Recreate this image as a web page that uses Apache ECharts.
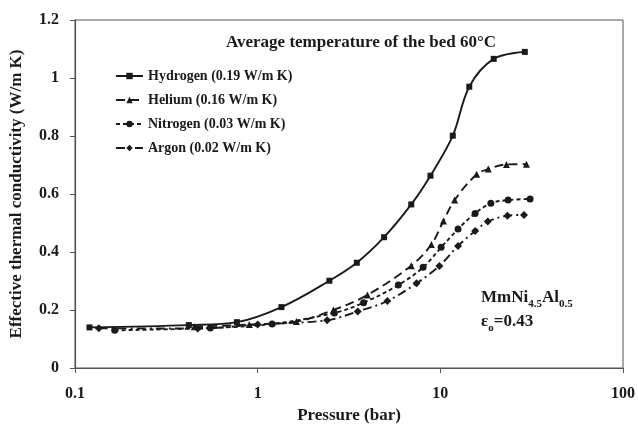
<!DOCTYPE html>
<html>
<head>
<meta charset="utf-8">
<script src="https://cdn.jsdelivr.net/npm/echarts@6/dist/echarts.min.js"></script>
<style>html,body{margin:0;padding:0;background:#fff;}#c{width:638px;height:430px;}</style>
</head>
<body>
<div id="c"></div>
<script>
const seriesNames = ['Hydrogen (0.19 W/m K)', 'Helium (0.16 W/m K)', 'Nitrogen (0.03 W/m K)', 'Argon (0.02 W/m K)'];
const hydrogen = [[0.12,0.14],[0.42,0.148],[0.77,0.158],[1.35,0.21],[2.47,0.301],[3.49,0.363],[4.92,0.451],[6.93,0.564],[8.83,0.663],[11.7,0.801],[14.4,0.97],[19.6,1.066],[29,1.09]];
const helium = [[0.45,0.142],[0.9,0.15],[1.63,0.16],[2.6,0.2],[3.99,0.252],[6.93,0.353],[8.93,0.426],[10.4,0.507],[11.97,0.579],[15.8,0.668],[18.3,0.686],[23,0.702],[29.6,0.703]];
const nitrogen = [[0.165,0.13],[0.55,0.138],[1.2,0.152],[2.63,0.19],[3.8,0.225],[5.89,0.286],[8.05,0.347],[10.1,0.416],[12.5,0.479],[15.5,0.533],[18.9,0.568],[23.5,0.579],[31,0.583]];
const argon = [[0.135,0.137],[0.47,0.136],[1.0,0.15],[2.4,0.165],[3.53,0.195],[5.13,0.231],[7.41,0.292],[9.88,0.352],[12.5,0.421],[15.5,0.472],[18.2,0.505],[23.3,0.525],[28.7,0.528]];
const xTicks = [0.1, 1, 10, 100];
const yTicks = [0, 0.2, 0.4, 0.6, 0.8, 1, 1.2];

const FONT = '"Liberation Serif", "DejaVu Serif", serif';
const INK = '#1a1a1a';
const chart = echarts.init(document.getElementById('c'), null, {renderer: 'canvas'});

function mk(name, data, symbol, size, type) {
  return {
    name: name, type: 'line', data: data, smooth: 0.35,
    symbol: symbol, symbolSize: size,
    itemStyle: {color: INK},
    lineStyle: {color: INK, width: 1.9, type: type},
    z: 3
  };
}

chart.setOption({
  animation: false,
  backgroundColor: '#fff',
  textStyle: {fontFamily: FONT},
  grid: {left: 72, right: 14, top: 20, bottom: 62, show: true, borderColor: '#555', borderWidth: 1},
  title: {
    text: 'Average temperature of the bed 60°C',
    left: 221, top: 29,
    textStyle: {fontFamily: FONT, fontWeight: 'bold', fontSize: 17, color: INK}
  },
  legend: {
    orient: 'vertical', left: 110, top: 64, itemGap: 10,
    itemWidth: 27, itemHeight: 8,
    textStyle: {fontFamily: FONT, fontWeight: 'bold', fontSize: 14, color: INK},
    data: seriesNames
  },
  xAxis: {
    type: 'log', logBase: 10, min: 0.1, max: 100,
    name: 'Pressure (bar)', nameLocation: 'middle', nameGap: 36,
    nameTextStyle: {fontFamily: FONT, fontWeight: 'bold', fontSize: 17, color: INK},
    axisLine: {lineStyle: {color: '#555', width: 1.2}},
    axisTick: {show: true, inside: false, length: 5, lineStyle: {color: '#555'}},
    minorTick: {show: false},
    splitLine: {show: false},
    axisLabel: {
      margin: 18, fontFamily: FONT, fontWeight: 'bold', fontSize: 16, color: INK,
      formatter: function (v) { const t = xTicks.find(k => Math.abs(k - v) / k < 1e-6); return t === undefined ? '' : String(t); }
    }
  },
  yAxis: {
    type: 'value', min: 0, max: 1.2, interval: 0.2,
    name: 'Effective thermal conductivity (W/m K)', nameLocation: 'middle', nameGap: 50,
    nameTextStyle: {fontFamily: FONT, fontWeight: 'bold', fontSize: 17, color: INK},
    axisLine: {show: true, lineStyle: {color: '#555', width: 1.2}},
    axisTick: {show: true, inside: false, length: 5, lineStyle: {color: '#555'}},
    splitLine: {show: false},
    axisLabel: {
      margin: 16, fontFamily: FONT, fontWeight: 'bold', fontSize: 16, color: INK,
      formatter: function (v) { const t = yTicks.find(k => Math.abs(k - v) < 1e-6); return t === undefined ? '' : String(t); }
    }
  },
  series: [
    mk(seriesNames[0], hydrogen, 'rect', 6, 'solid'),
    mk(seriesNames[1], helium, 'triangle', 7, [9, 5]),
    mk(seriesNames[2], nitrogen, 'circle', 7, [4, 3]),
    mk(seriesNames[3], argon, 'diamond', 8, [9, 4, 2, 4])
  ],
  graphic: [
    {
      type: 'text', left: 481, top: 289, z: 10,
      style: {
        text: '{b|MmNi}{s|4.5}{b|Al}{s|0.5}',
        rich: {
          b: {fontFamily: FONT, fontWeight: 'bold', fontSize: 17, fill: INK, verticalAlign: 'bottom'},
          s: {fontFamily: FONT, fontWeight: 'bold', fontSize: 11, fill: INK, verticalAlign: 'bottom', padding: [0, 0, -4, 0]}
        }
      }
    },
    {
      type: 'text', left: 481, top: 313, z: 10,
      style: {
        text: '{b|ε}{s|o}{b|=0.43}',
        rich: {
          b: {fontFamily: FONT, fontWeight: 'bold', fontSize: 17, fill: INK, verticalAlign: 'bottom'},
          s: {fontFamily: FONT, fontWeight: 'bold', fontSize: 11, fill: INK, verticalAlign: 'bottom', padding: [0, 0, -4, 0]}
        }
      }
    }
  ]
});
</script>
</body>
</html>
